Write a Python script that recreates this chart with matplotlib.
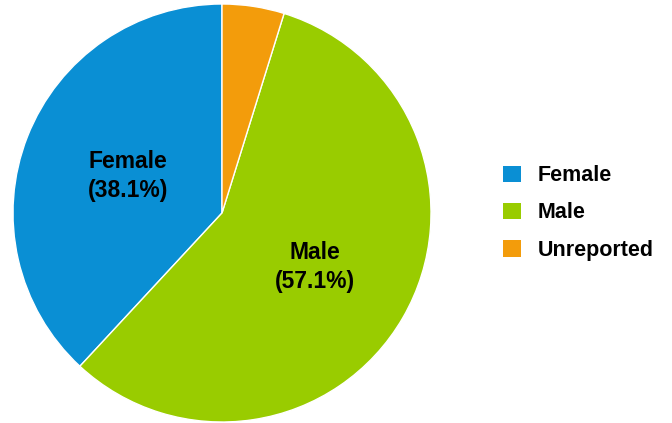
import numpy as np
import matplotlib
matplotlib.use("Agg")
import matplotlib.pyplot as plt
from matplotlib.patches import Patch

plt.rcParams["font.family"] = ["Liberation Sans", "DejaVu Sans"]

categories = ["Female", "Male", "Unreported"]
shares = [38.1, 57.1, 4.8]
colors = ["#0A8FD4", "#99CC00", "#F39C0B"]
# only the two big slices carry an in-pie label
show_label = [True, True, False]

fig = plt.figure(figsize=(6.72, 4.23), dpi=100)
ax = fig.add_axes([13 / 672, 1 / 423, 418 / 672, 418 / 423])

wedges, _ = ax.pie(
    shares,
    colors=colors,
    startangle=90,
    counterclock=True,
    radius=1.0,
    wedgeprops=dict(edgecolor="white", linewidth=1.0),
)
ax.set_xlim(-1.0, 1.0)
ax.set_ylim(-1.0, 1.0)
ax.set_aspect("equal")

label_r = [0.485, 0.515, 0.5]
for w, name, pct, show, r in zip(wedges, categories, shares, show_label, label_r):
    if not show:
        continue
    mid = np.deg2rad((w.theta1 + w.theta2) / 2)
    ax.text(
        r * np.cos(mid),
        r * np.sin(mid),
        f"{name}\n({pct:.1f}%)",
        ha="center",
        va="center",
        fontsize=16.5,
        fontweight="bold",
        color="black",
        linespacing=1.32,
    )

handles = [Patch(facecolor=c, edgecolor="none") for c in colors]
leg = fig.legend(
    handles,
    categories,
    loc="center left",
    bbox_to_anchor=(503 / 672, 1 - 213 / 423),
    frameon=False,
    fontsize=15.5,
    handlelength=0.82,
    handleheight=0.82,
    handletextpad=0.8,
    labelspacing=0.75,
    borderpad=0,
    borderaxespad=0,
)
for t in leg.get_texts():
    t.set_fontweight("bold")

fig.savefig("out.png", dpi=100, facecolor="white")
